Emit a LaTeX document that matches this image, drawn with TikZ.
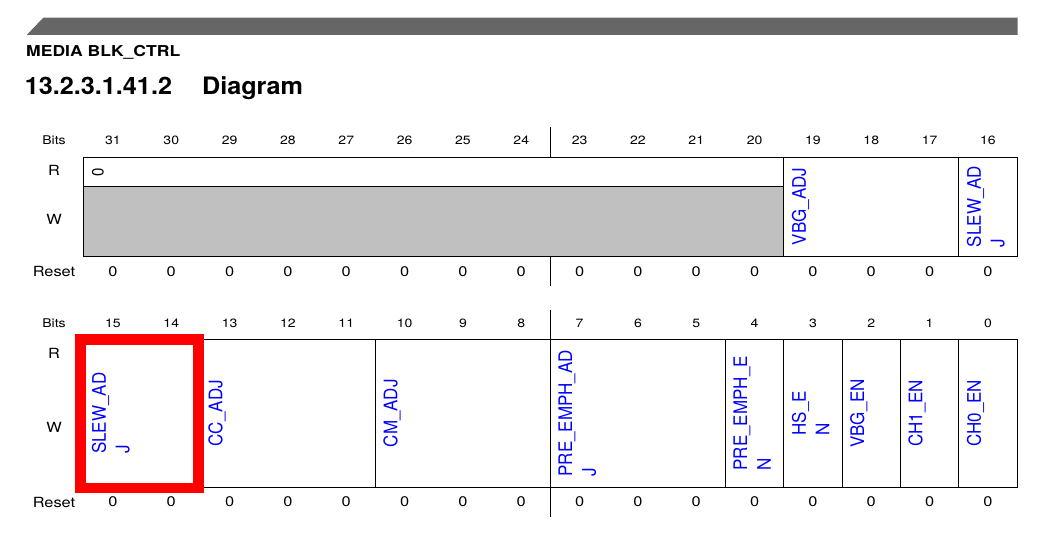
\documentclass[tikz,border=0pt]{standalone}
\usepackage{fontspec}
\setmainfont[FakeStretch=1.17]{TeX Gyre Heros}
\newfontfamily\fieldfont{TeX Gyre Heros}
\newfontfamily\headfont[FakeStretch=1.05]{TeX Gyre Heros}
\usetikzlibrary{positioning}
\definecolor{fblue}{HTML}{0000FF}
\definecolor{rsvgrey}{HTML}{C0C0C0}
\definecolor{bargrey}{HTML}{666666}
\definecolor{hlred}{HTML}{FF0000}
\tikzset{
  every picture/.style={x=1pt, y=-1pt, line width=1pt},
  cell/.style={draw=black, line width=1pt},
  fieldname/.style={text=#1, rotate=90, yscale=1.1, anchor=north, inner sep=0pt, align=left,
    font=\fieldfont\fontsize{17}{21.5}\selectfont},
  fieldname/.default=fblue,
  bitno/.style={font=\fontsize{12}{14}\selectfont, inner sep=0pt},
  rowlbl/.style={font=\fontsize{14}{16}\selectfont, inner sep=0pt},
  resetval/.style={font=\fontsize{14}{16}\selectfont, inner sep=0pt},
  heading/.style={anchor=base west, inner sep=0pt},
}

\begin{document}
\begin{tikzpicture}
  \useasboundingbox (0,0) rectangle (1063,543);
  \def\colw{58.33} \def\boxl{83.8}
  % one field: \regfield{name}{top}{bottom}{first column}{columns}{label}
  \newcommand{\regfield}[6]{%
    \draw[cell] ({\boxl+\colw*#4},#2) rectangle ({\boxl+\colw*(#4+#5)},#3);
    \node[fieldname] (#1) at ({\boxl+\colw*#4+7.5},{(#2+#3)/2}) {#6};}

  % page header
  \fill[bargrey] (26.7,35) -- (43.3,17.7) -- (1017.5,17.7) -- (1017.5,35) -- cycle;
  \node[heading, font=\bfseries\fontsize{15}{17}\selectfont] (blk) at (25.7,56.7) {MEDIA BLK\_CTRL};
  \node[heading, font=\headfont\bfseries\fontsize{24}{28}\selectfont] (secno) at (24.4,95) {13.2.3.1.41.2};
  \node[heading, font=\headfont\bfseries\fontsize{24}{28}\selectfont] (sectitle) at (201.6,95) {Diagram};

  % row labels
  \node[bitno] (bitsa) at (54,140) {Bits};
  \node[rowlbl] (ra) at (54,170.5) {R};
  \node[rowlbl] (wa) at (54,219.5) {W};
  \node[rowlbl] (reseta) at (54,271.5) {Reset};
  \node[bitno] (bitsb) at (54,323) {Bits};
  \node[rowlbl] (rb) at (54,353) {R};
  \node[rowlbl] (wb) at (54,427) {W};
  \node[rowlbl] (resetb) at (54,502) {Reset};

  % bit numbers and reset values
  \foreach \i in {0,...,15} {
    \pgfmathtruncatemacro\hi{31-\i}
    \pgfmathtruncatemacro\lo{15-\i}
    \node[bitno] (bh\i) at ({\boxl+\colw*(\i+0.5)},140) {\hi};
    \node[resetval] (rh\i) at ({\boxl+\colw*(\i+0.5)},271.5) {0};
    \node[bitno] (bl\i) at ({\boxl+\colw*(\i+0.5)},323) {\lo};
    \node[resetval] (rl\i) at ({\boxl+\colw*(\i+0.5)},502) {0};
  }

  % bits 31..16
  \fill[rsvgrey] (\boxl,186) rectangle ({\boxl+\colw*12},256);
  \draw[cell] (\boxl,157) rectangle ({\boxl+\colw*12},256);
  \draw[cell] (\boxl,186) -- ({\boxl+\colw*12},186);
  \node[fieldname=black, font=\fieldfont\fontsize{15}{17}\selectfont] (rsv) at (\boxl+7.5,172) {0};
  \regfield{vbgadj}{157}{256}{12}{3}{VBG\_ADJ}
  \regfield{slewhi}{157}{256}{15}{1}{SLEW\_AD\\J}
  \draw[cell] ({\boxl+\colw*8},127) -- ({\boxl+\colw*8},157);
  \draw[cell] ({\boxl+\colw*8},256) -- ({\boxl+\colw*8},286);

  % bits 15..0
  \regfield{slewlo}{339.3}{487.3}{0}{2}{SLEW\_AD\\J}
  \regfield{ccadj}{339.3}{487.3}{2}{3}{CC\_ADJ}
  \regfield{cmadj}{339.3}{487.3}{5}{3}{CM\_ADJ}
  \regfield{preadj}{339.3}{487.3}{8}{3}{PRE\_EMPH\_AD\\J}
  \regfield{preen}{339.3}{487.3}{11}{1}{PRE\_EMPH\_E\\N}
  \regfield{hsen}{339.3}{487.3}{12}{1}{HS\_E\\N}
  \regfield{vbgen}{339.3}{487.3}{13}{1}{VBG\_EN}
  \regfield{chaen}{339.3}{487.3}{14}{1}{CH1\_EN}
  \regfield{chzen}{339.3}{487.3}{15}{1}{CH0\_EN}
  \draw[cell] ({\boxl+\colw*8},310) -- ({\boxl+\colw*8},339.3);
  \draw[cell] ({\boxl+\colw*8},487.3) -- ({\boxl+\colw*8},517);

  % highlight
  \draw[hlred, line width=10.7pt] (80.5,339.7) rectangle (198.8,488);
\end{tikzpicture}
\end{document}
